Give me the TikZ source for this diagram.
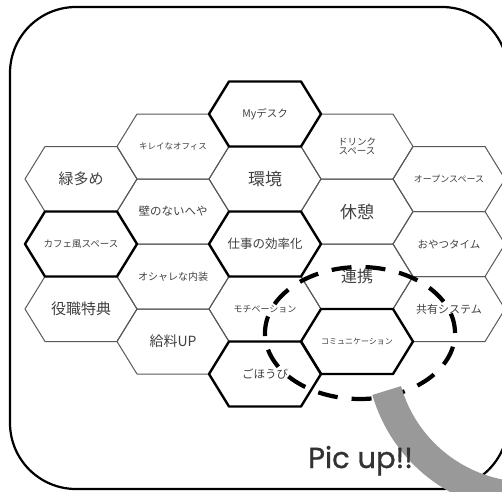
\documentclass[tikz,border=0pt]{standalone}
\usepackage{fontspec}
\usepackage{tikz}
\newfontfamily\jpfont{Noto Sans CJK JP}
\newfontfamily\picfont{Poppins}[FakeBold=1.0]

\begin{document}
\begin{tikzpicture}[x=1pt, y=1pt,
    cell/.style = {draw=black!65, line width=1pt, line join=round},
    boldcell/.style = {draw=black, line width=2.4pt, line join=round},
    lbl/.style = {font=\jpfont\fontsize{#1}{#1}\selectfont, text=black!75, align=center, inner sep=0pt},
    band/.style = {draw=black!40, line width=30pt}]

\useasboundingbox (0,0) rectangle (502,491);
\clip (0,0) rectangle (502,491);

% honeycomb: column c, row r; thin cells first so the bold ones sit on top
\foreach \c/\r/\kind/\s/\name/\txt in {
    0/0/cell/15/midori/緑多め,
    0/2/cell/15/yakushoku/役職特典,
    1/0/cell/8.5/kirei/キレイなオフィス,
    1/1/cell/11.5/kabe/壁のないへや,
    1/2/cell/10/oshare/オシャレな内装,
    1/3/cell/14/kyuryo/給料UP,
    2/1/cell/17/kankyo/環境,
    2/3/cell/9/motivation/モチベーション,
    3/0/cell/9.5/drink/ドリンク\\スペース,
    3/1/cell/17/kyukei/休憩,
    3/2/cell/16/renkei/連携,
    4/0/cell/9/open/オープンスペース,
    4/1/cell/10.5/oyatsu/おやつタイム,
    4/2/cell/11/kyoyu/共有システム,
    0/1/boldcell/9.5/cafe/カフェ風スペース,
    2/0/boldcell/10.5/mydesk/Myデスク,
    2/2/boldcell/12.5/koritsu/仕事の効率化,
    2/4/boldcell/11.5/gohoubi/ごほうび,
    3/3/boldcell/8/comm/コミュニケーション}
{
    \pgfmathsetmacro\cx{81+92*\c}
    \pgfmathsetmacro\cy{377-65*\r-32.5*abs(\c-2)}
    \draw[\kind] (\cx-56,\cy) -- ++(20,32.5) -- ++(72,0) -- ++(20,-32.5)
        -- ++(-20,-32.5) -- ++(-72,0) -- cycle;
    \node[lbl=\s] (\name) at (\cx,\cy) {\txt};
}

% highlight ring
\draw[black, line width=4.2pt, dash pattern=on 20pt off 14pt] (360,158) ellipse [x radius=95, y radius=66];

% outer frame
\draw[line width=2.2pt, rounded corners=66pt] (10,2) rectangle (508,484);

% grey sweep out of the ring
\draw[band] (528,141) ++(196:147) arc[start angle=196, end angle=268, radius=147];

\node[font=\picfont\fontsize{29}{29}\selectfont, text=black!80, anchor=base west, inner sep=0pt] (pickup) at (308,23) {Pic up!!};
\end{tikzpicture}
\end{document}
